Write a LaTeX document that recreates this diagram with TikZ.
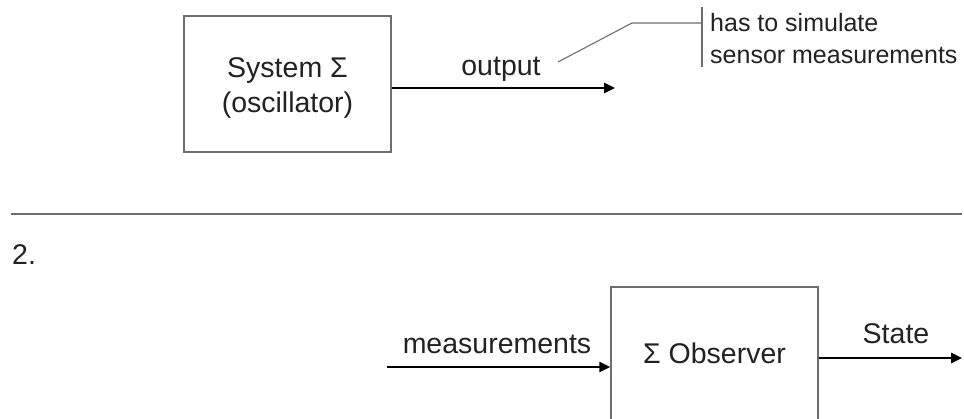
\documentclass[tikz,border=0pt]{standalone}
\usepackage{fontspec}
\setmainfont{Liberation Sans}
\usetikzlibrary{arrows.meta}
\definecolor{boxgray}{HTML}{6E6E6E}
\definecolor{txt}{HTML}{222222}
\tikzset{
  blockbox/.style={draw=boxgray, line width=1.4pt, minimum width=207pt, minimum height=136pt, inner sep=0pt},
  lbl/.style={anchor=base, text=txt, font=\fontsize{28.5}{35}\selectfont, inner sep=0pt, align=center},
  notetext/.style={anchor=west, align=left, text=txt, font=\fontsize{25}{32}\selectfont, inner sep=0pt},
  sig/.style={line width=2.6pt, black, -{Triangle[length=11pt,width=10pt]}},
  callout/.style={draw=boxgray, line width=1.1pt},
}
\begin{document}
\begin{tikzpicture}[x=1pt,y=-1pt]
\clip (0,0) rectangle (964,419);
\fill[white] (0,0) rectangle (964,419);
% top part
\node[blockbox] (sys) at (287.5,84) {};
\node[lbl] (syslbl) at (287.5,78) {System Σ};
\node[lbl] (osclbl) at (287.5,113) {(oscillator)};
\coordinate (outend) at (615,88);
\draw[sig] (sys.east |- outend) -- (outend);
\node[lbl] (outlbl) at (501,76) {output};
% callout
\coordinate (c0) at (558,62);
\coordinate (c1) at (632,23);
\coordinate (c2) at (702,23);
\coordinate (bt) at (702,7);
\coordinate (bb) at (702,67);
\draw[callout] (c0) -- (c1) -- (c2);
\draw[callout] (bt) -- (bb);
\node[notetext] (note) at (710,39) {has to simulate\\sensor measurements};
% divider
\coordinate (d0) at (11,214);
\coordinate (d1) at (962,214);
\draw[boxgray, line width=1.6pt] (d0) -- (d1);
\node[lbl, anchor=base west] (two) at (12,265) {2.};
% bottom part
\node[blockbox] (obs) at (714.5,355) {};
\node[lbl] (obslbl) at (714.5,364) {Σ Observer};
\coordinate (min) at (387,367);
\draw[sig] (min) -- (obs.west |- min);
\node[lbl] (mlbl) at (497,354) {measurements};
\coordinate (sout) at (962,358);
\draw[sig] (obs.east |- sout) -- (sout);
\node[lbl] (slbl) at (896,344) {State};
\end{tikzpicture}
\end{document}
